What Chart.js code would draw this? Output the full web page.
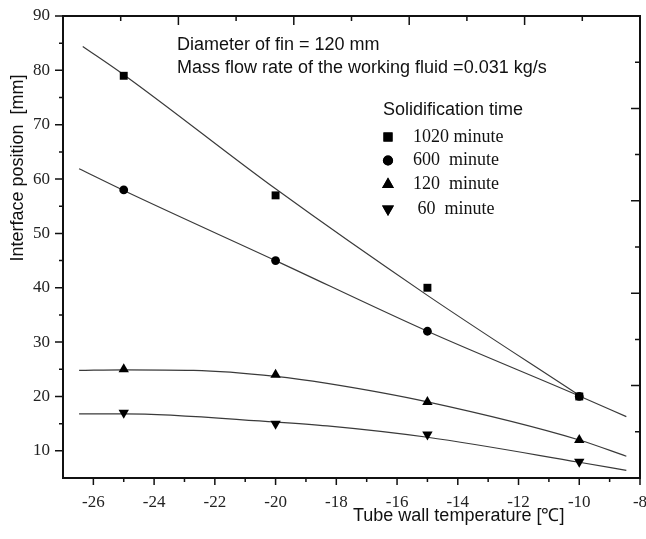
<!DOCTYPE html>
<html>
<head>
<meta charset="utf-8">
<script src="https://cdn.jsdelivr.net/npm/chart.js@4.4.1/dist/chart.umd.min.js"></script>
<style>
  body { margin: 0; background: #fff; }
  canvas { display: block; }
</style>
</head>
<body>
<canvas id="interfaceChart" width="646" height="539"></canvas>
<script>
// measured points
const temps = [-25, -20, -15, -10];
const pos1020 = [79, 57, 40, 20];
const pos600 = [58, 45, 32, 20];
const pos120 = [25, 24, 19, 12];
const pos60 = [17, 15, 13, 8];

// fitted curves
const fit1020X = [-26.35, -25, -20, -15, -10];
const fit1020Y = [84.4, 79.2, 58.2, 38.6, 20.2];
const fit600X = [-26.47, -25, -20, -15, -10, -8.45];
const fit600Y = [61.9, 57.9, 45.0, 32.0, 20.1, 16.3];
const fit120X = [-26.47, -25, -22.7, -20, -18.3, -15, -10, -8.45];
const fit120Y = [24.8, 24.9, 24.8, 23.7, 22.4, 19.0, 12.0, 9.0];
const fit60X = [-26.47, -25, -20, -18.3, -15, -10, -8.45];
const fit60Y = [16.8, 16.8, 15.3, 14.6, 12.5, 7.9, 6.4];

const seriesLabels = ['1020 minute', '600  minute', '120  minute', ' 60  minute'];
const legendTitle = 'Solidification time';
const noteLines = ['Diameter of fin = 120 mm', 'Mass flow rate of the working fluid =0.031 kg/s'];
const xTitle = 'Tube wall temperature [\u2103]';
const yTitle = 'Interface position  [mm]';

// tick positions
const xTicks = [-26, -24, -22, -20, -18, -16, -14, -12, -10, -8];
const xMinor = [-25, -23, -21, -19, -17, -15, -13, -11, -9];
const yTicks = [10, 20, 30, 40, 50, 60, 70, 80, 90];
const yMinor = [15, 25, 35, 45, 55, 65, 75, 85];

const ink = '#111';
const sans = 'Liberation Sans, Arial, sans-serif';
const serif = 'Liberation Serif, Times New Roman, serif';

function pairs(xs, ys) {
    return xs.map((x, i) => ({ x: x, y: ys[i] }));
}

function pointSet(label, ys, style, radius, rotation) {
    return {
        label: label,
        data: pairs(temps, ys),
        showLine: false,
        pointStyle: style,
        pointRadius: radius,
        pointHoverRadius: radius,
        rotation: rotation || 0,
        backgroundColor: '#000',
        borderColor: '#000',
        borderWidth: 0,
        order: 0
    };
}

function fitSet(xs, ys) {
    return {
        data: pairs(xs, ys),
        showLine: true,
        pointRadius: 0,
        borderColor: '#3a3a3a',
        borderWidth: 1.2,
        cubicInterpolationMode: 'monotone',
        fill: false,
        order: 1
    };
}

const markers = [
    { style: 'rect', radius: 5.6 },
    { style: 'circle', radius: 4.4 },
    { style: 'triangle', radius: 6 },
    { style: 'triangle', radius: 6, rotation: 180 }
];

// frame with inward ticks on top/right, outward ticks on left/bottom
const framePlugin = {
    id: 'frame',
    afterDraw(chart) {
        const c = chart.ctx;
        const a = chart.chartArea;
        const sx = chart.scales.x;
        const sy = chart.scales.y;
        c.save();
        c.strokeStyle = ink;
        c.lineWidth = 2;
        c.strokeRect(a.left, a.top, a.right - a.left, a.bottom - a.top);
        c.lineWidth = 1.5;
        c.beginPath();
        yTicks.forEach(v => { const p = sy.getPixelForValue(v); c.moveTo(a.left - 8, p); c.lineTo(a.left, p); });
        yMinor.forEach(v => { const p = sy.getPixelForValue(v); c.moveTo(a.left - 4, p); c.lineTo(a.left, p); });
        xTicks.forEach(v => { const p = sx.getPixelForValue(v); c.moveTo(p, a.bottom); c.lineTo(p, a.bottom + 7); });
        xMinor.forEach(v => { const p = sx.getPixelForValue(v); c.moveTo(p, a.bottom); c.lineTo(p, a.bottom + 4); });
        for (let k = 1; k < 10; k++) {
            const len = k % 2 === 0 ? 9 : 5;
            const px = sx.getPixelForDecimal(k / 10);
            c.moveTo(px, a.top);
            c.lineTo(px, a.top + len);
            const py = sy.getPixelForDecimal(k / 10);
            c.moveTo(a.right, py);
            c.lineTo(a.right - len, py);
        }
        c.stroke();
        c.restore();
    }
};

// notes, legend and axis titles
const textPlugin = {
    id: 'texts',
    afterDraw(chart) {
        const c = chart.ctx;
        c.save();
        c.fillStyle = ink;
        c.textBaseline = 'middle';
        c.textAlign = 'left';
        c.font = '18px ' + sans;
        noteLines.forEach((t, i) => c.fillText(t, 177, 45 + i * 23));
        c.fillText(legendTitle, 383, 110);

        const rows = [137, 160.5, 184.5, 209];
        seriesLabels.forEach((t, i) => {
            const m = markers[i];
            Chart.helpers.drawPoint(c, {
                pointStyle: m.style,
                radius: m.radius * 1.15,
                rotation: m.rotation || 0,
                borderWidth: 0
            }, 388, rows[i]);
            c.fillStyle = '#000';
            c.fill();
            c.fillStyle = ink;
            c.font = '18px ' + serif;
            c.fillText(t, 413, rows[i]);
        });

        c.font = '18px ' + sans;
        c.fillText(xTitle, 353, 516);

        c.translate(18, 168);
        c.rotate(-Math.PI / 2);
        c.textAlign = 'center';
        c.fillText(yTitle, 0, 0);
        c.restore();
    }
};

const ctx = document.getElementById('interfaceChart').getContext('2d');

new Chart(ctx, {
    type: 'scatter',
    data: {
        datasets: [
            pointSet(seriesLabels[0], pos1020, markers[0].style, markers[0].radius),
            pointSet(seriesLabels[1], pos600, markers[1].style, markers[1].radius),
            pointSet(seriesLabels[2], pos120, markers[2].style, markers[2].radius),
            pointSet(seriesLabels[3], pos60, markers[3].style, markers[3].radius, 180),
            fitSet(fit1020X, fit1020Y),
            fitSet(fit600X, fit600Y),
            fitSet(fit120X, fit120Y),
            fitSet(fit60X, fit60Y)
        ]
    },
    options: {
        responsive: false,
        animation: false,
        devicePixelRatio: 1,
        layout: {
            padding: { top: 16, right: 6, left: 0, bottom: 0 }
        },
        plugins: {
            legend: { display: false },
            tooltip: { enabled: false },
            title: { display: false }
        },
        scales: {
            x: {
                type: 'linear',
                min: -27,
                max: -8,
                afterBuildTicks: s => { s.ticks = xTicks.map(v => ({ value: v })); },
                afterFit: s => { s.height = 61; s.paddingLeft = 0; s.paddingRight = 0; },
                ticks: {
                    font: { family: serif, size: 17 },
                    color: '#222',
                    padding: 14,
                    maxRotation: 0,
                    autoSkip: false
                },
                grid: { display: false, drawTicks: false },
                border: { display: false }
            },
            y: {
                type: 'linear',
                min: 5,
                max: 90,
                afterBuildTicks: s => { s.ticks = yTicks.map(v => ({ value: v })); },
                afterFit: s => { s.width = 63; s.paddingTop = 0; s.paddingBottom = 0; },
                ticks: {
                    font: { family: serif, size: 17 },
                    color: '#222',
                    padding: 13
                },
                grid: { display: false, drawTicks: false },
                border: { display: false }
            }
        }
    },
    plugins: [framePlugin, textPlugin]
});
</script>
</body>
</html>
